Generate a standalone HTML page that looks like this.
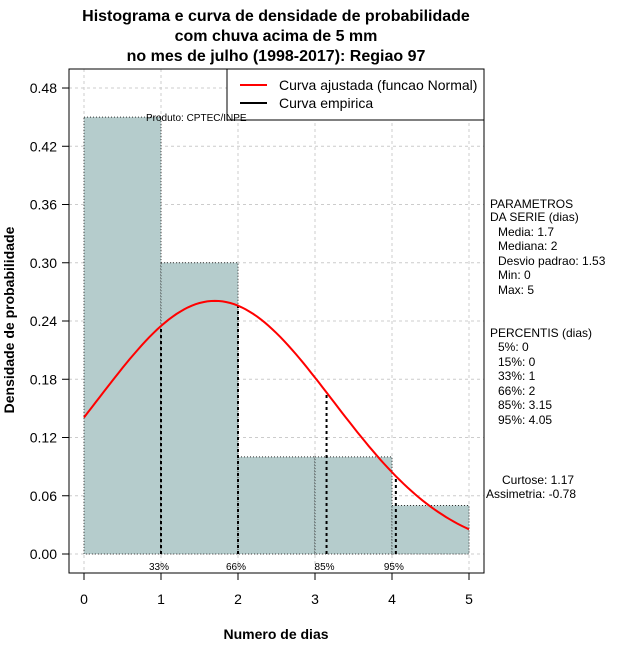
<!DOCTYPE html>
<html><head><meta charset="utf-8"><style>
body{margin:0;background:#fff;}
svg{display:block;font-family:"Liberation Sans",sans-serif;}
</style></head><body>
<svg id="c" width="640" height="660" viewBox="0 0 640 660">
<g font-weight="bold" font-size="16" text-anchor="middle">
<text x="276" y="21">Histograma e curva de densidade de probabilidade</text>
<text x="276" y="41">com chuva acima de 5 mm</text>
<text x="276" y="61">no mes de julho (1998-2017): Regiao 97</text>
</g>
<g id="grid"></g>
<g id="bars"></g>
<g id="pct"></g>
<path id="curve" fill="none" stroke="#f00" stroke-width="2"/>
<rect x="69" y="69" width="415" height="504" fill="none" stroke="#000"/>
<g id="axes" font-size="14"></g>
<text x="276" y="639" font-weight="bold" font-size="14" text-anchor="middle">Numero de dias</text>
<text transform="translate(14,320) rotate(-90)" font-weight="bold" font-size="14" text-anchor="middle">Densidade de probabilidade</text>
<g>
<rect x="227" y="69" width="257" height="51" fill="#fff" stroke="#000"/>
<line x1="240" y1="85" x2="267" y2="85" stroke="#f00" stroke-width="2"/>
<text x="279" y="90" font-size="14">Curva ajustada (funcao Normal)</text>
<line x1="240" y1="103" x2="267" y2="103" stroke="#000" stroke-width="2"/>
<text x="279" y="108" font-size="14">Curva empirica</text>
</g>
<text x="146" y="121" font-size="10">Produto: CPTEC/INPE</text>
<g font-size="12">
<text x="490" y="208">PARAMETROS</text>
<text x="490" y="221">DA SERIE (dias)</text>
<text x="498" y="236">Media: 1.7</text>
<text x="498" y="250">Mediana: 2</text>
<text x="498" y="265">Desvio padrao: 1.53</text>
<text x="498" y="279">Min: 0</text>
<text x="498" y="294">Max: 5</text>
<text x="490" y="337">PERCENTIS (dias)</text>
<text x="498" y="351">5%: 0</text>
<text x="498" y="366">15%: 0</text>
<text x="498" y="380">33%: 1</text>
<text x="498" y="395">66%: 2</text>
<text x="498" y="409">85%: 3.15</text>
<text x="498" y="424">95%: 4.05</text>
<text x="502" y="484">Curtose: 1.17</text>
<text x="486" y="498">Assimetria: -0.78</text>
</g>
</svg>
<script>
const binStarts=[0,1,2,3,4];
const binDensity=[0.45,0.30,0.10,0.10,0.05];
const mean=1.7, sd=1.53;
const pctValues=[1,2,3.15,4.05];
const pctLabels=["33%","66%","85%","95%"];
const xTicks=[0,1,2,3,4,5];
const yTicks=[0,0.06,0.12,0.18,0.24,0.30,0.36,0.42,0.48];
const X=v=>84+v*77, Y=v=>554-v*970.8;
const NS="http://www.w3.org/2000/svg";
function mk(p,t,a){const e=document.createElementNS(NS,t);for(const k in a)e.setAttribute(k,a[k]);p.appendChild(e);return e;}
const dens=x=>Math.exp(-((x-mean)**2)/(2*sd*sd))/(sd*Math.sqrt(2*Math.PI));
const g=document.getElementById('grid'),ax=document.getElementById('axes');
xTicks.forEach(t=>{const l=mk(g,'line',{x1:X(t),x2:X(t),y1:69,y2:573,stroke:'#ccc','stroke-dasharray':'3,3'});

mk(ax,'line',{x1:X(t),x2:X(t),y1:573,y2:580,stroke:'#000'});
const tx=mk(ax,'text',{x:X(t),y:604,'text-anchor':'middle'});tx.textContent=t;
});
yTicks.forEach(t=>{const l=mk(g,'line',{x1:69,x2:484,y1:Y(t),y2:Y(t),stroke:'#ccc','stroke-dasharray':'3,3'});

mk(ax,'line',{x1:62,x2:69,y1:Y(t),y2:Y(t),stroke:'#000'});
const tx=mk(ax,'text',{x:57,y:Y(t)+5,'text-anchor':'end'});tx.textContent=t.toFixed(2);
});
const b=document.getElementById('bars');
binStarts.forEach((s,i)=>{const r=mk(b,'rect',{x:X(s),y:Y(binDensity[i]),width:X(s+1)-X(s),height:Y(0)-Y(binDensity[i]),fill:'#b5cccc',stroke:'#333','stroke-dasharray':'1,2'});
});
let d='';for(let i=0;i<=100;i++){const x=5*i/100;d+=(i?'L':'M')+X(x).toFixed(1)+','+Y(dens(x)).toFixed(1);}
document.getElementById('curve').setAttribute('d',d);
const p=document.getElementById('pct');
pctValues.forEach((v,i)=>{const l=mk(p,'line',{x1:X(v),x2:X(v),y1:Y(0),y2:Y(dens(v)),stroke:'#000','stroke-width':2,'stroke-dasharray':'3,3'});

const t=mk(p,'text',{x:X(v)-2,y:570,'font-size':10,'text-anchor':'middle'});t.textContent=pctLabels[i];
});
</script>
</body></html>
